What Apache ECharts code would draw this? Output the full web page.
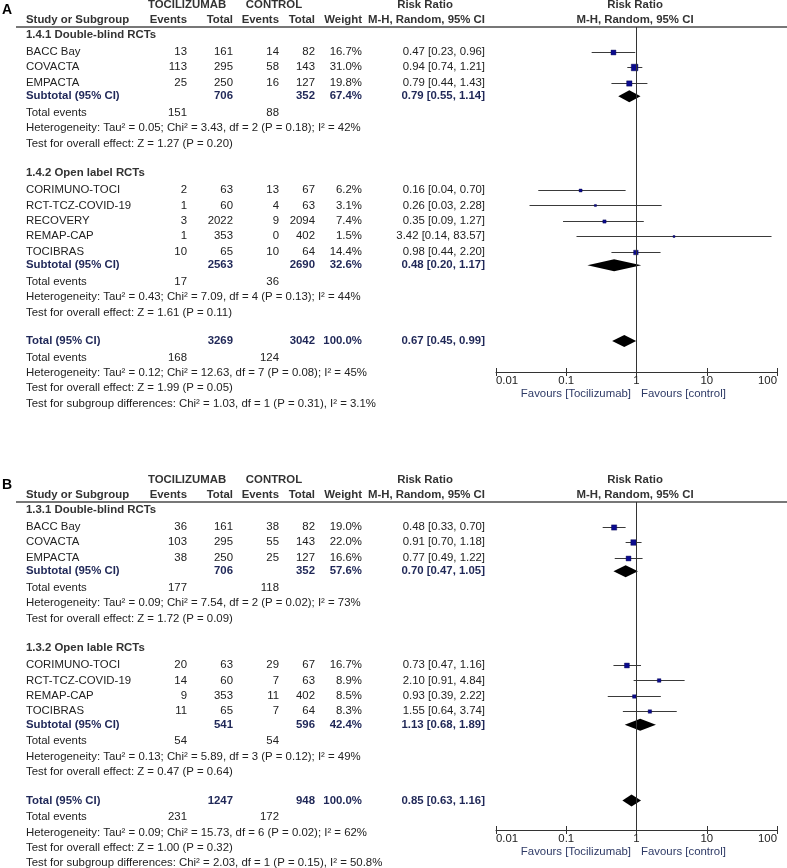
<!DOCTYPE html>
<html>
<head>
<meta charset="utf-8">
<script src="https://cdn.jsdelivr.net/npm/echarts@6/dist/echarts.min.js"></script>
<style>html,body{margin:0;padding:0;background:#fff}#c{width:787px;height:868px}</style>
</head>
<body>
<div id="c"></div>
<script>
// ---------------- DATA ----------------
const tickLabels = ['0.01', '0.1', '1', '10', '100'];
// Panel A
const A1_title = '1.4.1 Double-blind RCTs';
const A1_names = ['BACC Bay', 'COVACTA', 'EMPACTA'];
const A1_expE = [13, 113, 25];
const A1_expN = [161, 295, 250];
const A1_ctlE = [14, 58, 16];
const A1_ctlN = [82, 143, 127];
const A1_w = [16.7, 31.0, 19.8];
const A1_rr = [0.47, 0.94, 0.79];
const A1_lo = [0.23, 0.74, 0.44];
const A1_hi = [0.96, 1.21, 1.43];
const A1_sub = [706, 352, 67.4, 0.79, 0.55, 1.14];
const A1_events = [151, 88];
const A1_het = 'Heterogeneity: Tau² = 0.05; Chi² = 3.43, df = 2 (P = 0.18); I² = 42%';
const A1_test = 'Test for overall effect: Z = 1.27 (P = 0.20)';

const A2_title = '1.4.2 Open label RCTs';
const A2_names = ['CORIMUNO-TOCI', 'RCT-TCZ-COVID-19', 'RECOVERY', 'REMAP-CAP', 'TOCIBRAS'];
const A2_expE = [2, 1, 3, 1, 10];
const A2_expN = [63, 60, 2022, 353, 65];
const A2_ctlE = [13, 4, 9, 0, 10];
const A2_ctlN = [67, 63, 2094, 402, 64];
const A2_w = [6.2, 3.1, 7.4, 1.5, 14.4];
const A2_rr = [0.16, 0.26, 0.35, 3.42, 0.98];
const A2_lo = [0.04, 0.03, 0.09, 0.14, 0.44];
const A2_hi = [0.70, 2.28, 1.27, 83.57, 2.20];
const A2_sub = [2563, 2690, 32.6, 0.48, 0.20, 1.17];
const A2_events = [17, 36];
const A2_het = 'Heterogeneity: Tau² = 0.43; Chi² = 7.09, df = 4 (P = 0.13); I² = 44%';
const A2_test = 'Test for overall effect: Z = 1.61 (P = 0.11)';

const A_tot = [3269, 3042, 100.0, 0.67, 0.45, 0.99];
const A_totEvents = [168, 124];
const A_totHet = 'Heterogeneity: Tau² = 0.12; Chi² = 12.63, df = 7 (P = 0.08); I² = 45%';
const A_totTest = 'Test for overall effect: Z = 1.99 (P = 0.05)';
const A_sgTest = 'Test for subgroup differences: Chi² = 1.03, df = 1 (P = 0.31), I² = 3.1%';

// Panel B
const B1_title = '1.3.1 Double-blind RCTs';
const B1_names = ['BACC Bay', 'COVACTA', 'EMPACTA'];
const B1_expE = [36, 103, 38];
const B1_expN = [161, 295, 250];
const B1_ctlE = [38, 55, 25];
const B1_ctlN = [82, 143, 127];
const B1_w = [19.0, 22.0, 16.6];
const B1_rr = [0.48, 0.91, 0.77];
const B1_lo = [0.33, 0.70, 0.49];
const B1_hi = [0.70, 1.18, 1.22];
const B1_sub = [706, 352, 57.6, 0.70, 0.47, 1.05];
const B1_events = [177, 118];
const B1_het = 'Heterogeneity: Tau² = 0.09; Chi² = 7.54, df = 2 (P = 0.02); I² = 73%';
const B1_test = 'Test for overall effect: Z = 1.72 (P = 0.09)';

const B2_title = '1.3.2 Open lable RCTs';
const B2_names = ['CORIMUNO-TOCI', 'RCT-TCZ-COVID-19', 'REMAP-CAP', 'TOCIBRAS'];
const B2_expE = [20, 14, 9, 11];
const B2_expN = [63, 60, 353, 65];
const B2_ctlE = [29, 7, 11, 7];
const B2_ctlN = [67, 63, 402, 64];
const B2_w = [16.7, 8.9, 8.5, 8.3];
const B2_rr = [0.73, 2.10, 0.93, 1.55];
const B2_lo = [0.47, 0.91, 0.39, 0.64];
const B2_hi = [1.16, 4.84, 2.22, 3.74];
const B2_sub = [541, 596, 42.4, 1.13, 0.68, 1.89];
const B2_events = [54, 54];
const B2_het = 'Heterogeneity: Tau² = 0.13; Chi² = 5.89, df = 3 (P = 0.12); I² = 49%';
const B2_test = 'Test for overall effect: Z = 0.47 (P = 0.64)';

const B_tot = [1247, 948, 100.0, 0.85, 0.63, 1.16];
const B_totEvents = [231, 172];
const B_totHet = 'Heterogeneity: Tau² = 0.09; Chi² = 15.73, df = 6 (P = 0.02); I² = 62%';
const B_totTest = 'Test for overall effect: Z = 1.00 (P = 0.32)';
const B_sgTest = 'Test for subgroup differences: Chi² = 2.03, df = 1 (P = 0.15), I² = 50.8%';

// ---------------- LAYOUT / STYLE ----------------
const FONT = '"Liberation Sans", Arial, Helvetica, sans-serif';
const FS = 11.4;
const ROWPX = 15.4;
const COLS = [
  {x: 26, align: 'left'},
  {x: 187, align: 'right'},
  {x: 233, align: 'right'},
  {x: 279, align: 'right'},
  {x: 315, align: 'right'},
  {x: 362, align: 'right'},
  {x: 485, align: 'right'}
];
const STYLES = {
  n: {fill: '#222', fontWeight: 'normal'},
  group: {fill: '#333', fontWeight: 'bold'},
  bold: {fill: '#1f2757', fontWeight: 'bold'}
};
const STEP = {group: 1.92, firstStudy: 1.1, study: 1.0, subtotal: 0.88, events: 1.07, het: 1.0, test: 1.0, total: 1.85, sg: 1.0};

function mk(title, names, expE, expN, ctlE, ctlN, w, rr, lo, hi, sub, ev, het, test) {
  return {title, names, expE, expN, ctlE, ctlN, w, rr, lo, hi, sub, ev, het, test};
}
const ciText = (a, b, c) => `${a.toFixed(2)} [${b.toFixed(2)}, ${c.toFixed(2)}]`;

function buildPanel(groups, tot, totEv, totHet, totTest, sgTest) {
  const texts = [], studies = [], diamonds = [];
  let r = 0;
  const T = (row, c, t, s) => texts.push({r: row, c, t: String(t), s});
  groups.forEach((g, gi) => {
    if (gi > 0) r += STEP.group;
    T(r, 0, g.title, 'group');
    g.names.forEach((n, i) => {
      r += i === 0 ? STEP.firstStudy : STEP.study;
      T(r, 0, n, 'n'); T(r, 1, g.expE[i], 'n'); T(r, 2, g.expN[i], 'n');
      T(r, 3, g.ctlE[i], 'n'); T(r, 4, g.ctlN[i], 'n');
      T(r, 5, g.w[i].toFixed(1) + '%', 'n');
      T(r, 6, ciText(g.rr[i], g.lo[i], g.hi[i]), 'n');
      studies.push([g.rr[i], r, g.lo[i], g.hi[i], g.w[i]]);
    });
    r += STEP.subtotal;
    T(r, 0, 'Subtotal (95% CI)', 'bold'); T(r, 2, g.sub[0], 'bold'); T(r, 4, g.sub[1], 'bold');
    T(r, 5, g.sub[2].toFixed(1) + '%', 'bold'); T(r, 6, ciText(g.sub[3], g.sub[4], g.sub[5]), 'bold');
    diamonds.push([g.sub[3], r, g.sub[4], g.sub[5]]);
    r += STEP.events;
    T(r, 0, 'Total events', 'n'); T(r, 1, g.ev[0], 'n'); T(r, 3, g.ev[1], 'n');
    r += STEP.het; T(r, 0, g.het, 'n');
    r += STEP.test; T(r, 0, g.test, 'n');
  });
  r += STEP.total;
  T(r, 0, 'Total (95% CI)', 'bold'); T(r, 2, tot[0], 'bold'); T(r, 4, tot[1], 'bold');
  T(r, 5, tot[2].toFixed(1) + '%', 'bold'); T(r, 6, ciText(tot[3], tot[4], tot[5]), 'bold');
  diamonds.push([tot[3], r, tot[4], tot[5]]);
  r += STEP.events;
  T(r, 0, 'Total events', 'n'); T(r, 1, totEv[0], 'n'); T(r, 3, totEv[1], 'n');
  r += STEP.het; T(r, 0, totHet, 'n');
  r += STEP.test; T(r, 0, totTest, 'n');
  r += STEP.sg; T(r, 0, sgTest, 'n');
  return {texts, studies, diamonds};
}

const panelA = buildPanel([
  mk(A1_title, A1_names, A1_expE, A1_expN, A1_ctlE, A1_ctlN, A1_w, A1_rr, A1_lo, A1_hi, A1_sub, A1_events, A1_het, A1_test),
  mk(A2_title, A2_names, A2_expE, A2_expN, A2_ctlE, A2_ctlN, A2_w, A2_rr, A2_lo, A2_hi, A2_sub, A2_events, A2_het, A2_test)
], A_tot, A_totEvents, A_totHet, A_totTest, A_sgTest);
const panelB = buildPanel([
  mk(B1_title, B1_names, B1_expE, B1_expN, B1_ctlE, B1_ctlN, B1_w, B1_rr, B1_lo, B1_hi, B1_sub, B1_events, B1_het, B1_test),
  mk(B2_title, B2_names, B2_expE, B2_expN, B2_ctlE, B2_ctlN, B2_w, B2_rr, B2_lo, B2_hi, B2_sub, B2_events, B2_het, B2_test)
], B_tot, B_totEvents, B_totHet, B_totTest, B_sgTest);

// panel geometry: header line y, axis y
const PANELS = [
  {p: panelA, top: 27, axisY: 372, oy: 0, letter: 'A'},
  {p: panelB, top: 502, axisY: 830, oy: 475, letter: 'B'}
];
const ROW0_OFF = 8; // first row sits 8px below header line

const chart = echarts.init(document.getElementById('c'), null, {renderer: 'canvas'});

const grids = [], xAxes = [], yAxes = [], series = [], graphics = [];
PANELS.forEach((P, pi) => {
  const h = P.axisY - P.top;
  grids.push({left: 496, right: 10, top: P.top, height: h, containLabel: false});
  const base = {
    type: 'log', logBase: 10, min: 0.01, max: 100, gridIndex: pi, position: 'bottom',
    splitLine: {show: false}, minorTick: {show: false}
  };
  xAxes.push(Object.assign({}, base, {
    axisLine: {show: true, onZero: false, lineStyle: {color: '#333', width: 1}},
    axisTick: {show: true, inside: false, length: 4, lineStyle: {color: '#333'}},
    axisLabel: {
      show: true, margin: 3, color: '#222', fontSize: FS, fontFamily: FONT,
      alignMinLabel: 'left', alignMaxLabel: 'right',
      formatter: (v) => {
        const e = Math.round(Math.log10(v));
        return tickLabels[e + 2] !== undefined ? tickLabels[e + 2] : '';
      }
    }
  }));
  xAxes.push(Object.assign({}, base, {
    axisLine: {show: false, onZero: false},
    axisTick: {show: true, inside: true, length: 4, lineStyle: {color: '#333'}},
    axisLabel: {show: false}
  }));
  const ymin = -ROW0_OFF / ROWPX;
  yAxes.push({type: 'value', gridIndex: pi, inverse: true, min: ymin, max: ymin + h / ROWPX, show: false});

  const xi = pi * 2;
  const texts = P.p.texts;
  series.push({
    type: 'custom', xAxisIndex: xi, yAxisIndex: pi, clip: false, silent: true,
    data: texts.map(t => [1, t.r]),
    renderItem: (params, api) => {
      const t = texts[params.dataIndex];
      const y = api.coord([1, api.value(1)])[1];
      const col = COLS[t.c];
      const st = STYLES[t.s];
      return {
        type: 'text',
        style: {
          text: t.t, x: col.x, y: y, align: col.align, verticalAlign: 'middle',
          fill: st.fill, fontWeight: st.fontWeight, fontSize: FS, fontFamily: FONT
        }
      };
    }
  });
  series.push({
    type: 'custom', xAxisIndex: xi, yAxisIndex: pi, clip: false, silent: true,
    data: P.p.studies,
    encode: {x: 0, y: 1},
    renderItem: (params, api) => {
      const r = api.value(1);
      const p = api.coord([api.value(0), r]);
      const l = api.coord([api.value(2), r]);
      const hh = api.coord([api.value(3), r]);
      const y = Math.round(p[1]) + 0.5;
      const s = Math.max(2, 1.2 * Math.sqrt(api.value(4)));
      return {
        type: 'group',
        children: [
          {type: 'line', shape: {x1: l[0], y1: y, x2: hh[0], y2: y}, style: {stroke: '#3a3a3a', lineWidth: 1}},
          {type: 'rect', shape: {x: p[0] - s / 2, y: y - s / 2, width: s, height: s},
            style: {fill: '#0b0b8f', stroke: '#05054a', lineWidth: 0.4}}
        ]
      };
    }
  });
  series.push({
    type: 'custom', xAxisIndex: xi, yAxisIndex: pi, clip: false, silent: true,
    data: P.p.diamonds,
    encode: {x: 0, y: 1},
    renderItem: (params, api) => {
      const r = api.value(1);
      const p = api.coord([api.value(0), r]);
      const l = api.coord([api.value(2), r]);
      const hh = api.coord([api.value(3), r]);
      const y = p[1];
      return {
        type: 'polygon',
        shape: {points: [[l[0], y], [p[0], y - 6], [hh[0], y], [p[0], y + 6]]},
        style: {fill: '#000'}
      };
    },
    markLine: {
      silent: true, symbol: ['none', 'none'], label: {show: false},
      lineStyle: {color: '#333', width: 1, type: 'solid'},
      data: [{xAxis: 1}]
    }
  });

  // headers (layout text)
  const oy = P.oy;
  const hdr = (text, x, y, align, extra) => graphics.push({
    type: 'text', x: x, y: y,
    style: Object.assign({text, align, verticalAlign: 'middle', fill: '#333', fontWeight: 'bold', fontSize: FS, fontFamily: FONT}, extra || {})
  });
  hdr(P.letter, 2, 10 + oy, 'left', {fill: '#000', fontSize: 14});
  hdr('TOCILIZUMAB', 187, 5 + oy, 'center');
  hdr('CONTROL', 274, 5 + oy, 'center');
  hdr('Risk Ratio', 425, 5 + oy, 'center');
  hdr('Risk Ratio', 635, 5 + oy, 'center');
  hdr('Study or Subgroup', 26, 20 + oy, 'left');
  hdr('Events', 187, 20 + oy, 'right');
  hdr('Total', 233, 20 + oy, 'right');
  hdr('Events', 279, 20 + oy, 'right');
  hdr('Total', 315, 20 + oy, 'right');
  hdr('Weight', 362, 20 + oy, 'right');
  hdr('M-H, Random, 95% CI', 485, 20 + oy, 'right');
  hdr('M-H, Random, 95% CI', 635, 20 + oy, 'center');
  graphics.push({type: 'line', shape: {x1: 16, y1: P.top, x2: 787, y2: P.top}, style: {stroke: '#777', lineWidth: 2}});
  hdr('Favours [Tocilizumab]', 631, P.axisY + 21.5, 'right', {fill: '#2e3a66', fontWeight: 'normal'});
  hdr('Favours [control]', 641, P.axisY + 21.5, 'left', {fill: '#2e3a66', fontWeight: 'normal'});
});

chart.setOption({
  animation: false,
  backgroundColor: '#fff',
  grid: grids,
  xAxis: xAxes,
  yAxis: yAxes,
  series: series,
  graphic: graphics
});
</script>
</body>
</html>
